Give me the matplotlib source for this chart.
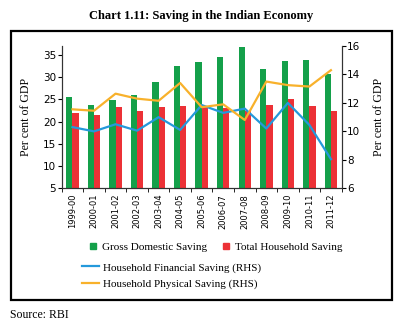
import matplotlib
matplotlib.use('Agg')
import numpy as np
from matplotlib import pyplot as plt
from matplotlib.lines import Line2D
from matplotlib.patches import Rectangle

years = ['1999-00', '2000-01', '2001-02', '2002-03', '2003-04', '2004-05', '2005-06',
         '2006-07', '2007-08', '2008-09', '2009-10', '2010-11', '2011-12']
gross_domestic = [25.6, 23.8, 24.9, 25.9, 29.0, 32.4, 33.4, 34.5, 36.7, 31.9, 33.6, 33.9, 30.7]
total_household = [21.9, 21.4, 23.3, 22.4, 23.2, 23.6, 23.2, 23.1, 22.4, 23.7, 25.1, 23.6, 22.4]
hh_financial = [10.3, 10.0, 10.5, 10.05, 11.0, 10.1, 11.85, 11.3, 11.6, 10.2, 12.0, 10.45, 8.05]
hh_physical = [11.55, 11.45, 12.65, 12.3, 12.15, 13.4, 11.7, 11.9, 10.8, 13.5, 13.25, 13.15, 14.3]

green = '#14a04a'
red = '#ec3136'
blue = '#2499db'
orange = '#f8b12b'
serif = 'Liberation Serif'

fig = plt.figure(figsize=(3.99, 3.25), dpi=100)
ax = fig.add_axes([0.1546, 0.4206, 0.7018, 0.4379])
ax2 = ax.twinx()

x = np.arange(len(years))
w = 0.29
ax.bar(x - w / 2, gross_domestic, w, color=green, zorder=2)
ax.bar(x + w / 2, total_household, w, color=red, zorder=2)
ax.set_ylim(5, 37)
ax.set_yticks(range(5, 36, 5))
ax.set_xlim(-0.5, len(years) - 0.5)
ax.set_xticks(x)
ax.set_xticklabels(years, rotation=90)
ax.set_xticks(np.arange(-0.5, len(years), 1), minor=True)
ax.tick_params(axis='x', which='major', length=0, pad=4, labelsize=6)
ax.tick_params(axis='x', which='minor', length=3, direction='out')
ax.tick_params(axis='y', length=3, labelsize=7.5, pad=1)
ax.set_ylabel('Per cent of GDP', family=serif, fontsize=8.5, labelpad=8)

ax2.plot(x, hh_financial, color=blue, lw=1.6, zorder=3)
ax2.plot(x, hh_physical, color=orange, lw=1.6, zorder=3)
ax2.set_ylim(6, 16)
ax2.set_yticks(range(6, 17, 2))
ax2.tick_params(axis='y', length=3, labelsize=7.5, pad=1)
ax2.set_ylabel('Per cent of GDP', family=serif, fontsize=8.5, rotation=90, labelpad=9)

for a in (ax, ax2):
    a.spines['top'].set_visible(False)
    for s in ('left', 'right', 'bottom'):
        a.spines[s].set_color('#333333')
        a.spines[s].set_linewidth(0.8)

fig.text(0.505, 0.951, 'Chart 1.11: Saving in the Indian Economy', ha='center', va='center',
         family=serif, fontweight='bold', fontsize=9)

fig.patches.append(Rectangle((11 / 399, 1 - 300 / 325), 381 / 399, 269 / 325,
                             transform=fig.transFigure, fill=False, ec='black', lw=1.6))

bar_handles = [Line2D([], [], marker='s', ls='none', color=green, markersize=5),
               Line2D([], [], marker='s', ls='none', color=red, markersize=5)]
leg1 = fig.legend(bar_handles, ['Gross Domestic Saving', 'Total Household Saving'],
                  loc='center left', bbox_to_anchor=(82 / 399, 1 - 247 / 325), ncol=2,
                  frameon=False, prop={'family': serif, 'size': 8}, handletextpad=0.3,
                  columnspacing=1.2, borderpad=0, handlelength=1)
line_handles = [Line2D([], [], color=blue, lw=1.6), Line2D([], [], color=orange, lw=1.6)]
leg2 = fig.legend(line_handles, ['Household Financial Saving (RHS)', 'Household Physical Saving (RHS)'],
                  loc='upper left', bbox_to_anchor=(76 / 399, 1 - 257 / 325),
                  frameon=False, prop={'family': serif, 'size': 8}, handletextpad=0.35,
                  handlelength=1.6, borderpad=0, labelspacing=0.55)

fig.text(10 / 399, 1 - 315 / 325, 'Source: RBI', ha='left', va='center', family=serif, fontsize=8.5)

plt.savefig('out.png', dpi=100)
